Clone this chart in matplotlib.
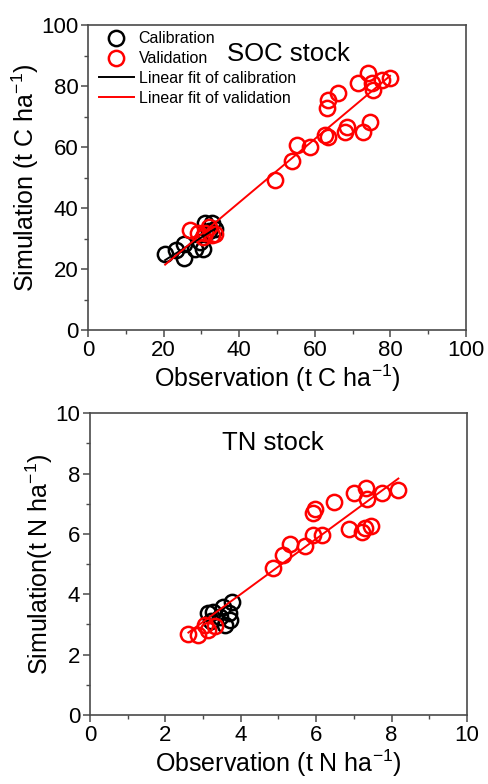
import numpy as np
import matplotlib.pyplot as plt
from matplotlib.ticker import MultipleLocator

plt.rcParams['font.family'] = ['Liberation Sans', 'DejaVu Sans']
plt.rcParams['mathtext.default'] = 'regular'

# SOC stock (t C ha-1)
soc_cal_obs = [20.4, 23.4, 25.5, 25.5, 28.3, 30.5, 31.0, 32.7, 33.6, 29.5, 32.0]
soc_cal_sim = [24.8, 26.2, 23.5, 28.2, 26.5, 26.7, 35.0, 35.2, 33.0, 29.0, 32.5]
soc_val_obs = [27.0, 29.0, 31.0, 31.9, 32.7, 33.6, 30.4, 49.5, 53.9, 55.2, 58.7,
               62.7, 63.6, 63.1, 63.6, 66.2, 68.4, 68.0, 71.5, 72.8, 74.6, 74.2,
               75.5, 75.0, 77.7, 79.9]
soc_val_sim = [32.8, 31.7, 31.7, 33.7, 31.2, 31.4, 30.6, 49.2, 55.4, 60.7, 60.1,
               63.9, 63.2, 72.7, 75.4, 77.8, 66.7, 65.0, 80.9, 65.0, 68.1, 84.2,
               78.7, 80.9, 82.0, 82.8]

# TN stock (t N ha-1)
tn_cal_obs = [3.14, 3.27, 3.54, 3.76, 3.71, 3.58, 3.45, 3.20, 3.68]
tn_cal_sim = [3.37, 3.42, 3.59, 3.75, 3.15, 2.98, 3.26, 3.10, 3.37]
tn_val_obs = [2.61, 2.87, 3.14, 3.05, 3.32, 4.86, 5.13, 5.31, 5.70, 5.92, 6.15,
              5.92, 5.97, 6.47, 6.88, 7.00, 7.21, 7.29, 7.45, 7.32, 7.34, 7.74, 8.18]
tn_val_sim = [2.70, 2.65, 2.81, 2.98, 2.95, 4.86, 5.30, 5.66, 5.60, 5.96, 5.96,
              6.68, 6.84, 7.06, 6.16, 7.36, 6.07, 6.18, 6.27, 7.51, 7.17, 7.34, 7.45]

spine_col = '#4a4a4a'


def panel(ax, cal_x, cal_y, val_x, val_y, lim, major, minor, title, title_xy,
          xlabel, ylabel, legend):
    ax.plot(cal_x, cal_y, 'o', mfc='none', mec='black', ms=11, mew=1.8,
            label='Calibration')
    ax.plot(val_x, val_y, 'o', mfc='none', mec='red', ms=11, mew=1.8,
            label='Validation')
    # linear fits
    k, b = np.polyfit(cal_x, cal_y, 1)
    xs = np.array([min(cal_x), max(cal_x)])
    ax.plot(xs, k * xs + b, color='black', lw=1.4,
            label='Linear fit of calibration')
    k, b = np.polyfit(val_x, val_y, 1)
    xs = np.array([min(min(cal_x), min(val_x)), max(val_x)])
    ax.plot(xs, k * xs + b, color='red', lw=1.4,
            label='Linear fit of validation')

    ax.set_xlim(0, lim)
    ax.set_ylim(0, lim)
    for a in (ax.xaxis, ax.yaxis):
        a.set_major_locator(MultipleLocator(major))
        a.set_minor_locator(MultipleLocator(minor))
    ax.tick_params(which='major', direction='out', length=5, width=1.1,
                   color=spine_col, labelsize=16, pad=2)
    ax.tick_params(which='minor', direction='out', length=3, width=1.0,
                   color=spine_col)
    for s in ax.spines.values():
        s.set_color(spine_col)
        s.set_linewidth(1.2)
    ax.set_xlabel(xlabel, fontsize=18, labelpad=1)
    ax.set_ylabel(ylabel, fontsize=18, labelpad=0)
    ax.text(title_xy[0], title_xy[1], title, transform=ax.transAxes,
            fontsize=18.5, ha='center', va='center')
    if legend:
        ax.legend(loc='upper left', bbox_to_anchor=(0.02, 0.99), frameon=False,
                  fontsize=11.5, handlelength=2.2, handletextpad=0.3,
                  labelspacing=0.3, borderaxespad=0, borderpad=0.2)


fig = plt.figure(figsize=(4.89, 7.84), dpi=100)
ax1 = fig.add_axes([0.180, 0.579, 0.773, 0.389])
ax2 = fig.add_axes([0.184, 0.088, 0.771, 0.385])

panel(ax1, soc_cal_obs, soc_cal_sim, soc_val_obs, soc_val_sim, 100, 20, 10,
      'SOC stock', (0.53, 0.906),
      'Observation (t C ha$^{-1}$)', 'Simulation (t C ha$^{-1}$)', True)
panel(ax2, tn_cal_obs, tn_cal_sim, tn_val_obs, tn_val_sim, 10, 2, 1,
      'TN stock', (0.485, 0.9),
      'Observation (t N ha$^{-1}$)', 'Simulation(t N ha$^{-1}$)', False)

fig.savefig('out.png', dpi=100)
